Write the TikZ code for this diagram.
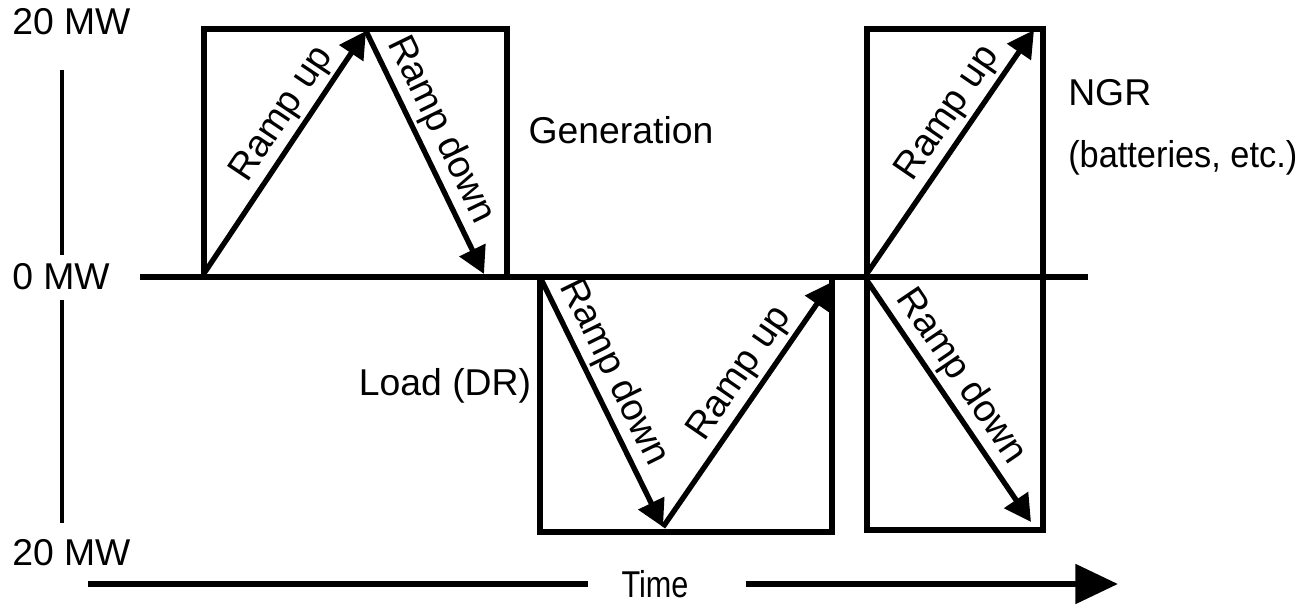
\documentclass[tikz,border=0pt]{standalone}
\usepackage{fontspec}
\setmainfont{Liberation Sans}
\usetikzlibrary{arrows.meta}
\begin{document}
\begin{tikzpicture}[x=0.75pt,y=-0.75pt,
  box/.style={line width=4pt},
  ramp/.style={line width=4pt, -{Triangle[length=20pt,width=21pt]}},
  lbl/.style={font=\fontsize{28}{33}\selectfont, inner sep=0pt},
  rl/.style={font=\fontsize{28.5}{33}\selectfont, sloped, above, inner sep=2.5pt},
  axis/.style={line width=2.4pt},
  timeline/.style={line width=4.8pt}]
\useasboundingbox (0,0) rectangle (1307,609);
% baseline
\coordinate (bl) at (140,277);
\coordinate (br) at (1088,277);
\draw[box] (bl) -- (br);
% boxes
\draw[box] (204,277) -- (204,29) -- (507,29) -- (507,277);
\draw[box] (540,277) -- (540,532) -- (832,532) -- (832,277);
\draw[box] (867,277) -- (867,29) -- (1043,29) -- (1043,277);
\draw[box] (867,277) -- (867,530) -- (1043,530) -- (1043,277);
% ramp coordinates
\coordinate (g0) at (205,272);
\coordinate (g1) at (366,31);
\coordinate (g2) at (484,274);
\coordinate (l0) at (541,279);
\coordinate (l1) at (663,527);
\coordinate (l2) at (832,282);
\coordinate (n0) at (868,272);
\coordinate (n1) at (1034,30);
\coordinate (n2) at (868,282);
\coordinate (n3) at (1031,522);
\draw[ramp] (g0) -- node[rl,pos=0.6]{Ramp up} (g1);
\draw[ramp] (g1) -- node[rl,pos=0.45]{Ramp down} (g2);
\draw[ramp] (l0) -- node[rl,pos=0.42]{Ramp down} (l1);
\draw[ramp] (l1) -- node[rl,pos=0.57]{Ramp up} (l2);
\draw[ramp] (n0) -- node[rl,pos=0.6]{Ramp up} (n1);
\draw[ramp] (n2) -- node[rl,pos=0.45]{Ramp down} (n3);
% axis labels
\node[lbl,anchor=west] (t20) at (12,22) {20 MW};
\node[lbl,anchor=west] (t0) at (12,277) {0 MW};
\node[lbl,anchor=west] (b20) at (12,553) {20 MW};
\draw[axis] (62,70) -- (62,255);
\draw[axis] (62,300) -- (62,523);
% other labels
\node[lbl] (gen) at (621,130) {Generation};
\node[lbl] (load) at (445,386) {Load (DR)};
\node[lbl,anchor=west] (ngr) at (1068,93) {NGR};
\node[lbl,anchor=west,xscale=0.92] (bat) at (1068,158) {(batteries, etc.)};
% time
\node[lbl,xscale=0.82] (time) at (655,584) {Time};
\coordinate (tl) at (88,584);
\coordinate (tr) at (1118,584);
\draw[timeline] (tl) -- ([xshift=-50pt]time.center);
\draw[timeline,-{Triangle[length=32pt,width=29pt]}] ([xshift=68pt]time.center) -- (tr);
\end{tikzpicture}
\end{document}
